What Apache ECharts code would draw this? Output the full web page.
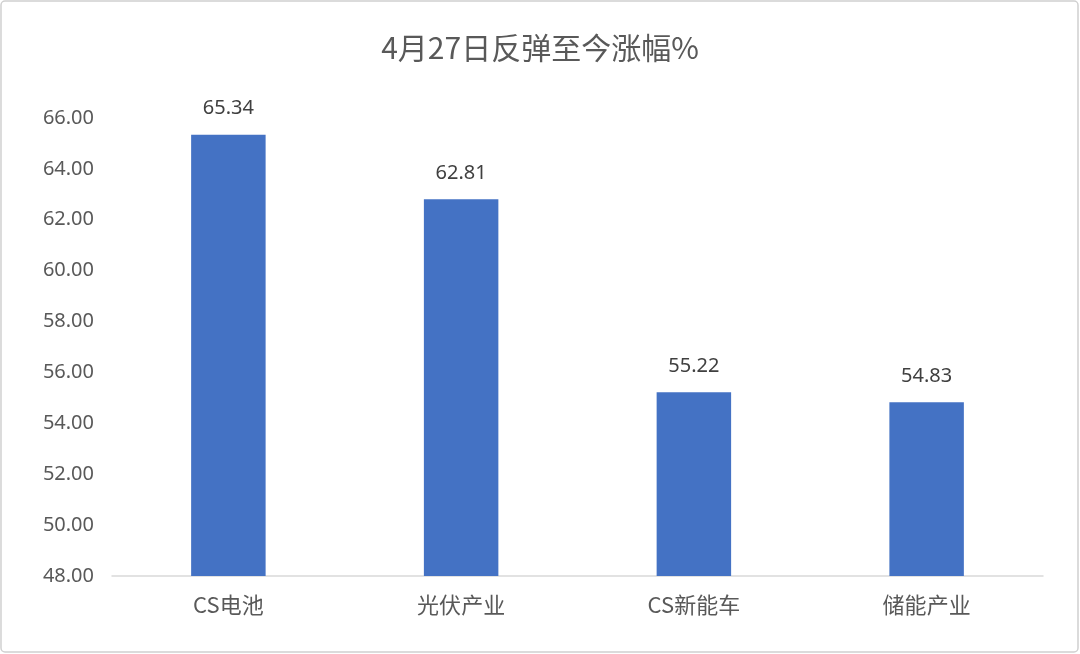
<!DOCTYPE html>
<html><head><meta charset="utf-8">
<script src="https://cdn.jsdelivr.net/npm/echarts@6/dist/echarts.min.js"></script>
<style>html,body{margin:0;padding:0;background:#fff}#c{width:1080px;height:654px}</style>
</head><body><div id="c"></div>
<script>
const categories = ['CS电池', '光伏产业', 'CS新能车', '储能产业'];
const values = [65.34, 62.81, 55.22, 54.83];
const chart = echarts.init(document.getElementById('c'));
chart.setOption({
  animation: false,
  graphic: [{type: 'rect', shape: {x: 1, y: 1, width: 1077, height: 651, r: 4}, style: {fill: 'none', stroke: '#d0d0d0', lineWidth: 1.5}}],
  title: {text: '4月27日反弹至今涨幅%', left: 'center', top: 28,
    textStyle: {fontSize: 30, fontWeight: 'normal', color: '#595959', fontFamily: 'Noto Sans CJK SC'}},
  grid: {left: 112, right: 37, top: 118, bottom: 78},
  xAxis: {type: 'category', data: categories,
    axisLine: {lineStyle: {color: '#d9d9d9', width: 1.5}}, axisTick: {show: false},
    axisLabel: {fontSize: 22, color: '#595959', margin: 18, fontFamily: 'Noto Sans CJK SC'}},
  yAxis: {type: 'value', min: 48, max: 66, interval: 2,
    splitLine: {show: false}, axisLine: {show: false}, axisTick: {show: false},
    axisLabel: {fontSize: 20, color: '#595959', margin: 18, formatter: v => v.toFixed(2), fontFamily: 'Noto Sans'}},
  series: [{type: 'bar', data: values, barWidth: '32%', itemStyle: {color: '#4472c4'},
    label: {show: true, position: 'top', distance: 16, fontSize: 20, color: '#404040', fontFamily: 'Noto Sans',
      formatter: p => p.value.toFixed(2)}}]
});
</script></body></html>
